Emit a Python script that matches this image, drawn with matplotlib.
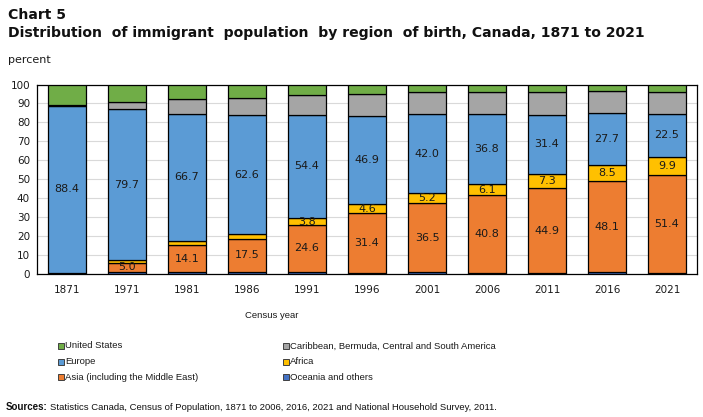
import matplotlib
matplotlib.use("Agg")
import matplotlib.pyplot as plt
from matplotlib.patches import Rectangle
import numpy as np

years = ['1871', '1971', '1981', '1986', '1991', '1996', '2001', '2006', '2011', '2016', '2021']
oceania = [0.3, 1.0, 1.0, 1.2, 1.2, 0.7, 0.8, 0.7, 0.5, 0.8, 0.7]
asia = [0.2, 5.0, 14.1, 17.5, 24.6, 31.4, 36.5, 40.8, 44.9, 48.1, 51.4]
africa = [0.0, 1.2, 2.5, 2.5, 3.8, 4.6, 5.2, 6.1, 7.3, 8.5, 9.9]
europe = [88.4, 79.7, 66.7, 62.6, 54.4, 46.9, 42.0, 36.8, 31.4, 27.7, 22.5]
caribbean = [0.1, 3.8, 7.8, 9.0, 10.4, 11.3, 11.4, 11.5, 11.8, 11.6, 11.4]
united_states = [11.0, 9.3, 7.9, 7.2, 5.6, 5.1, 4.1, 4.1, 4.1, 3.3, 4.1]

series_names = ['Oceania and others', 'Asia (including the Middle East)', 'Africa',
                'Europe', 'Caribbean, Bermuda, Central and South America', 'United States']
series_vals = [oceania, asia, africa, europe, caribbean, united_states]
series_colors = ['#4472C4', '#ED7D31', '#FFC000', '#5B9BD5', '#A5A5A5', '#70AD47']
# which series get value labels, and from which index
label_from = {1: 1, 2: 4, 3: 0}

W, H = 703, 417
fig = plt.figure(figsize=(W / 100, H / 100), dpi=100)

def fx(px):
    return px / W

def fy(py):
    return 1 - py / H

ax_left, ax_right, ax_top, ax_bottom = 37, 697, 84.5, 274
ax = fig.add_axes([fx(ax_left), fy(ax_bottom), (ax_right - ax_left) / W, (ax_bottom - ax_top) / H])

x = np.arange(len(years))
bottom = np.zeros(len(years))
for i, (name, vals, col) in enumerate(zip(series_names, series_vals, series_colors)):
    vals = np.array(vals)
    ax.bar(x, vals, bottom=bottom, width=0.64, color=col, edgecolor='black',
           linewidth=0.9, zorder=3)
    if i in label_from:
        for j in range(label_from[i], len(years)):
            ax.text(x[j], bottom[j] + vals[j] / 2, f"{vals[j]:.1f}", ha='center', va='center',
                    fontsize=8, color='#1a1a1a', zorder=4, family='DejaVu Sans')
    bottom += vals

ax.set_xlim(-0.5, len(years) - 0.5)
ax.set_ylim(0, 100)
ax.set_yticks(np.arange(0, 101, 10))
ax.set_xticks(x)
ax.set_xticklabels(years)
ax.tick_params(axis='both', length=0, labelsize=7.5, colors='#1a1a1a')
ax.tick_params(axis='x', pad=8)
ax.tick_params(axis='y', pad=5)
ax.yaxis.grid(True, color='#d9d9d9', linewidth=0.8, zorder=0)
ax.set_axisbelow(True)
for s in ax.spines.values():
    s.set_color('black')
    s.set_linewidth(0.9)

# titles
fig.text(fx(8), fy(19), 'Chart 5', fontsize=10.1, fontweight='bold', color='#111111', va='baseline')
fig.text(fx(8), fy(37), 'Distribution  of immigrant  population  by region  of birth, Canada, 1871 to 2021',
         fontsize=10.1, fontweight='bold', color='#111111', va='baseline')
fig.text(fx(8), fy(60), 'percent', fontsize=8, color='#1a1a1a', va='center')

fig.text(fx(272), fy(316), 'Census year', fontsize=6.8, color='#1a1a1a', ha='center', va='center',
         family='Liberation Sans')

# legend (manual layout)
legend_items = [
    ('United States', '#70AD47', 58, 346),
    ('Europe', '#5B9BD5', 58, 362),
    ('Asia (including the Middle East)', '#ED7D31', 58, 377),
    ('Caribbean, Bermuda, Central and South America', '#A5A5A5', 283, 346),
    ('Africa', '#FFC000', 283, 362),
    ('Oceania and others', '#4472C4', 283, 377),
]
for label, col, px, py in legend_items:
    fig.add_artist(Rectangle((fx(px), fy(py + 3)), 6 / W, 6 / H, transform=fig.transFigure,
                             facecolor=col, edgecolor='#404040', linewidth=0.7))
    fig.text(fx(px + 7), fy(py), label, fontsize=6.8, color='#1a1a1a', va='center',
             family='Liberation Sans')

fig.text(fx(6), fy(407), 'Sources:', fontsize=7, fontweight='bold', color='#111111', va='center',
         family='Liberation Sans')
fig.text(fx(50), fy(407), 'Statistics Canada, Census of Population, 1871 to 2006, 2016, 2021 and National Household Survey, 2011.',
         fontsize=6.8, color='#111111', va='center', family='Liberation Sans')

fig.savefig('out.png', dpi=100)
